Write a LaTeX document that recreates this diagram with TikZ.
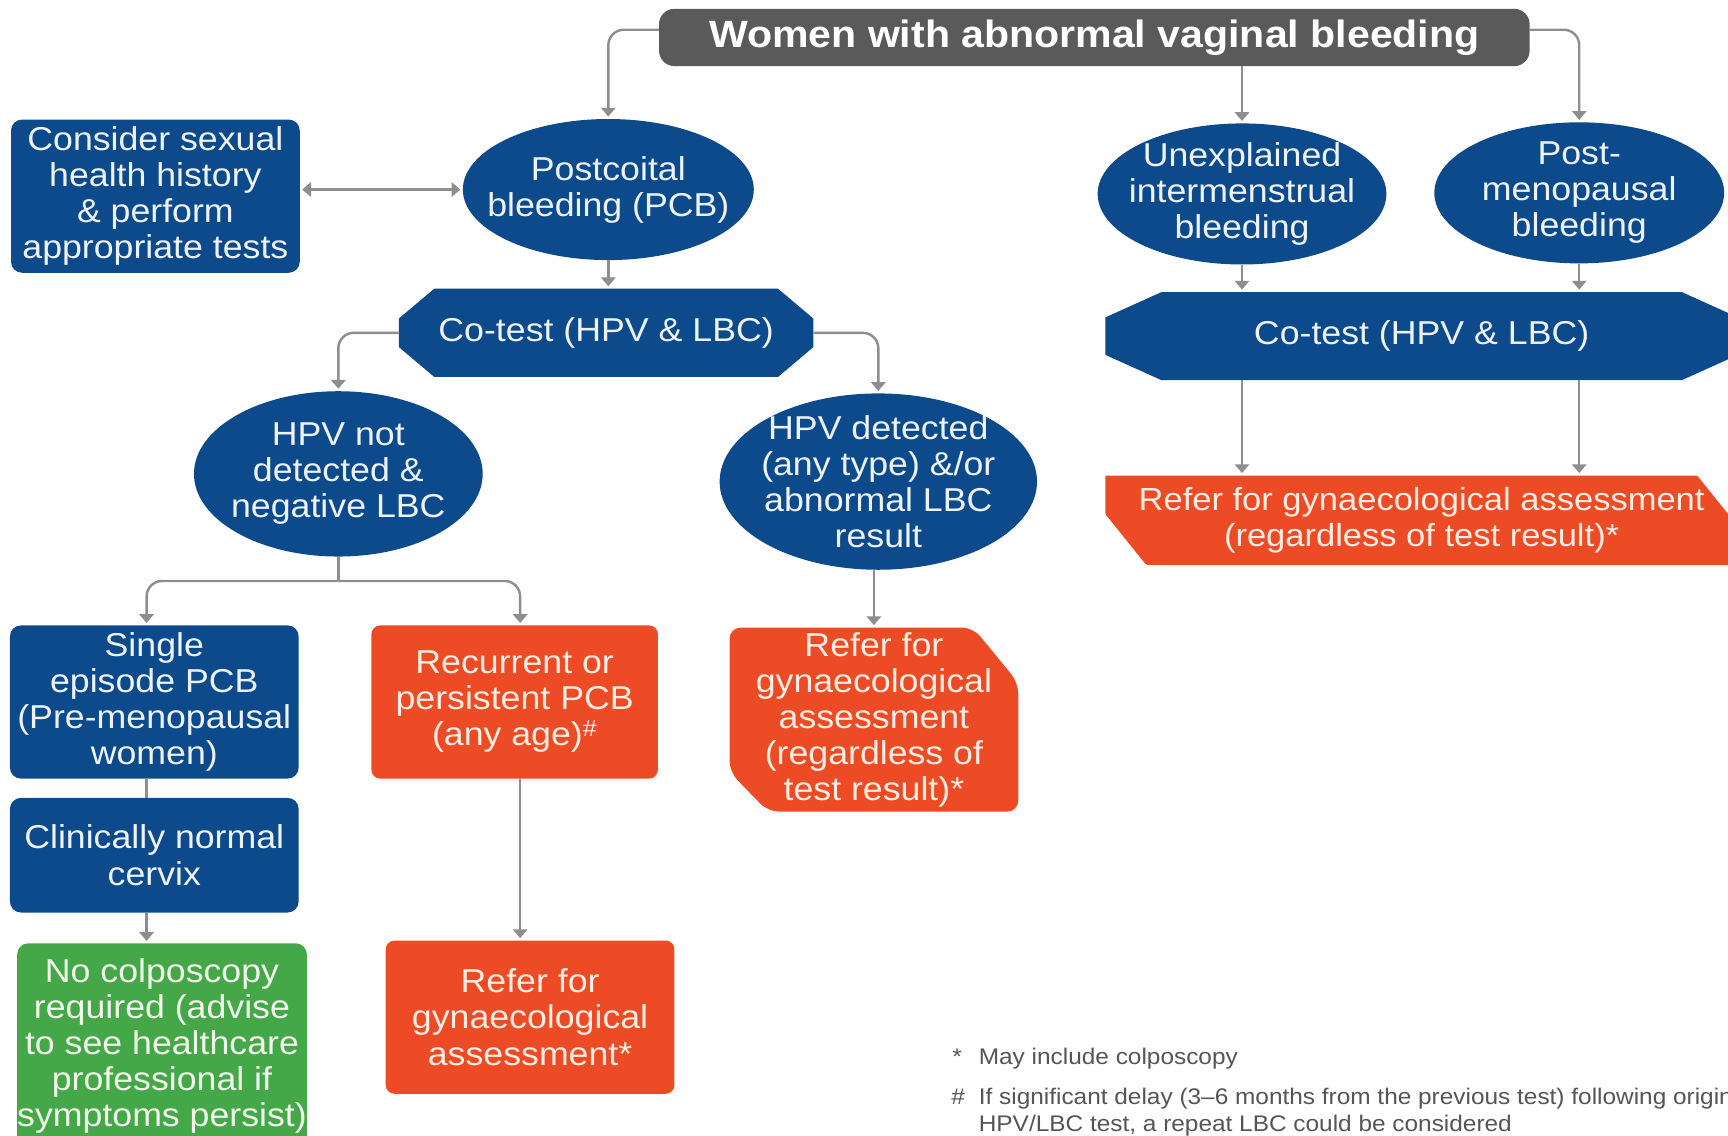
\documentclass[tikz,border=0pt]{standalone}
\usepackage{fontspec}
\setmainfont{Liberation Sans}[FakeStretch=1.08]
\usetikzlibrary{arrows.meta,shapes.geometric}

\definecolor{navy}{HTML}{0C4A8C}
\definecolor{alert}{HTML}{EC4B25}
\definecolor{okgreen}{HTML}{44A849}
\definecolor{headgray}{HTML}{5A5A5A}
\definecolor{linkgray}{HTML}{8E8E8E}
\definecolor{notegray}{HTML}{555555}
\definecolor{navytext}{HTML}{EEF3FA}
\definecolor{alerttext}{HTML}{FDEDE2}
\definecolor{greentext}{HTML}{F1F8EA}

\begin{document}
\begin{tikzpicture}[x=1pt,y=-1pt,
  >={Triangle[width=13pt,length=8pt]},
  body/.style={font=\fontsize{30}{32.7}\selectfont, align=center},
  navybox/.style={body, rectangle, rounded corners=10pt, fill=navy, text=navytext,
    inner sep=1pt, minimum width=262pt},
  alertbox/.style={body, rectangle, rounded corners=8pt, fill=alert, text=alerttext,
    inner sep=1pt},
  oval/.style={body, ellipse, fill=navy, text=navytext, inner sep=-60pt},
  % rectangle with all four corners cut: colour, cut width, cut height
  octo/.style n args={3}{body, rectangle, inner sep=0pt,
    path picture={\fill[#1]
      (path picture bounding box.north)
      -- ([xshift=-#2]path picture bounding box.north east)
      -- ([yshift=-#3]path picture bounding box.north east)
      -- ([yshift=#3]path picture bounding box.south east)
      -- ([xshift=-#2]path picture bounding box.south east)
      -- ([xshift=#2]path picture bounding box.south west)
      -- ([yshift=#3]path picture bounding box.south west)
      -- ([yshift=-#3]path picture bounding box.north west)
      -- ([xshift=#2]path picture bounding box.north west)
      -- cycle;}},
  % rectangle with north-east and south-west corners cut:
  % colour, NE cut width, NE cut height, SW cut width, SW cut height, corner radius
  cutbox/.style n args={6}{body, rectangle, inner sep=0pt,
    path picture={\fill[#1, rounded corners=#6]
      (path picture bounding box.north)
      -- ([xshift=-#2]path picture bounding box.north east)
      -- ([yshift=-#3]path picture bounding box.north east)
      -- (path picture bounding box.south east)
      -- ([xshift=#4]path picture bounding box.south west)
      -- ([yshift=#5]path picture bounding box.south west)
      -- (path picture bounding box.north west)
      -- cycle;}},
  link/.style={draw=linkgray, line width=2.2pt, rounded corners=14pt, ->,
    shorten >=2pt},
  plain/.style={draw=linkgray, line width=2.2pt},
  note/.style={font=\fontsize{20.5}{25}\selectfont, text=notegray, inner sep=0pt,
    anchor=base west}
]
\useasboundingbox (0,0) rectangle (1568,1030);

% header
\node[rectangle, rounded corners=14pt, fill=headgray, minimum width=790pt,
  minimum height=52pt, text=white, font=\fontsize{34.5}{36}\selectfont\bfseries]
  (title) at (993,34) {Women with abnormal vaginal bleeding};

% first row
\node[navybox, minimum height=139pt] (consider) at (141,178)
  {Consider sexual\\health history\\\& perform\\appropriate tests};
\node[oval, minimum width=264pt, minimum height=128pt] (pcb) at (552,172)
  {Postcoital\\bleeding (PCB)};
\node[oval, minimum width=262pt, minimum height=128pt] (unexpl) at (1127,176)
  {Unexplained\\intermenstrual\\bleeding};
\node[oval, minimum width=263pt, minimum height=128pt] (postm) at (1433,175)
  {Post-\\menopausal\\bleeding};

% co-tests
\node[octo={navy}{32pt}{27pt}, text=navytext, minimum width=376pt,
  minimum height=80pt] (cotestL) at (550,302) {Co-test (HPV \& LBC)};
\node[octo={navy}{51pt}{23pt}, text=navytext, minimum width=574pt,
  minimum height=80pt] (cotestR) at (1290,305) {Co-test (HPV \& LBC)};

% results
\node[oval, minimum width=262pt, minimum height=150pt] (hpvneg) at (307,430)
  {HPV not\\detected \&\\negative LBC};
\node[oval, minimum width=288pt, minimum height=160pt] (hpvpos) at (797,437)
  {HPV detected\\(any type) \&/or\\abnormal LBC\\result};
\node[cutbox={alert}{37pt}{46pt}{37pt}{46pt}{1pt}, text=alerttext,
  font=\fontsize{29}{32.7}\selectfont,
  minimum width=574pt, minimum height=81pt] (referR) at (1290,472)
  {Refer for gynaecological assessment\\(regardless of test result)*};

% outcomes
\node[navybox, minimum height=139pt] (single) at (140,637)
  {Single\\episode PCB\\(Pre-menopausal\\women)};
\node[alertbox, minimum width=260pt, minimum height=139pt] (recur) at (467,637)
  {Recurrent or\\persistent PCB\\(any age)\textsuperscript{\#}};
\node[cutbox={alert}{41pt}{50pt}{35pt}{36pt}{10pt}, text=alerttext,
  minimum width=262pt, minimum height=167pt] (referM) at (793,653)
  {Refer for\\gynaecological\\assessment\\(regardless of\\test result)*};
\node[navybox, minimum height=104pt] (clin) at (140,776)
  {Clinically normal\\cervix};
\node[body, rectangle, rounded corners=10pt, fill=okgreen, text=greentext,
  inner sep=0pt, minimum width=261pt, minimum height=186pt] (green) at (147,949)
  {No colposcopy\\required (advise\\to see healthcare\\professional if\\symptoms persist)};
\node[alertbox, minimum width=262pt, minimum height=139pt] (referB) at (481,923)
  {Refer for\\gynaecological\\assessment*};

% footnotes
\node[note] (star) at (864,966) {*};
\node[note] (starnote) at (888,966) {May include colposcopy};
\node[note] (hash) at (863,1002) {\#};
\node[note] (hashnote) at (888,1002)
  {If significant delay (3–6 months from the previous test) following original};
\node[note] (hashnote2) at (888,1027)
  {HPV/LBC test, a repeat LBC could be considered};

% connectors
\draw[link] ([yshift=7pt]title.west) -| (pcb.north);
\draw[link] ([yshift=7pt]title.east) -| (postm.north);
\draw[link] (title.south -| unexpl.north) -- (unexpl.north);
\draw[link, <->, shorten <=2pt] (consider.east |- pcb.west) -- (pcb.west);
\draw[link] (pcb.south) -- (pcb.south |- cotestL.north);
\draw[link] (cotestL.west) -| (hpvneg.north);
\draw[link] (cotestL.east) -| (hpvpos.north);
\draw[plain] (hpvneg.south) -- ++(0,22) coordinate (split);
\draw[link] (split) -| ([xshift=-7pt]single.north);
\draw[link] (split) -| ([xshift=5pt]recur.north);
\draw[plain] ([xshift=-7pt]single.south) -- ([xshift=-7pt]clin.north);
\draw[link] ([xshift=-7pt]clin.south) -- ([xshift=-7pt]clin.south |- green.north);
\draw[link] ([xshift=5pt]recur.south) -- ([xshift=5pt]recur.south |- referB.north);
\draw[link] (referM.north |- hpvpos.south) -- (referM.north);
\draw[link] (unexpl.south) -- (unexpl.south |- cotestR.north);
\draw[link] (postm.south) -- (postm.south |- cotestR.north);
\draw[link] (unexpl.south |- cotestR.south) -- (unexpl.south |- referR.north);
\draw[link] (postm.south |- cotestR.south) -- (postm.south |- referR.north);
\end{tikzpicture}
\end{document}
